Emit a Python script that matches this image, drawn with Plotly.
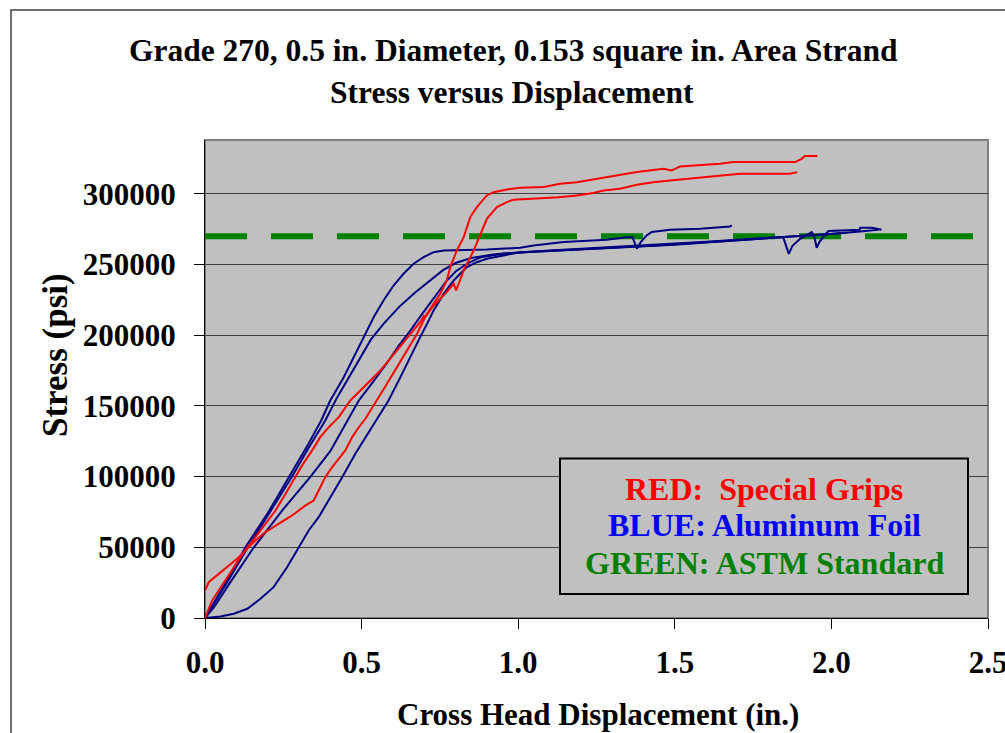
import plotly.graph_objects as go

# ---------------- data ----------------
# RED: Special Grips, specimen 1 (starts near 20000 psi)
red1_x = [0.0, 0.012, 0.044, 0.076, 0.108, 0.129, 0.161, 0.193, 0.235, 0.278, 0.321, 0.347,
          0.368, 0.384, 0.406, 0.427, 0.448, 0.470, 0.491, 0.512, 0.549, 0.581, 0.613, 0.645,
          0.677, 0.703, 0.730, 0.772, 0.794, 0.802, 0.826, 0.858, 0.879, 0.900, 0.932, 0.964,
          0.985, 1.038, 1.129, 1.187, 1.240, 1.272, 1.325, 1.379, 1.432, 1.485, 1.549, 1.623,
          1.708, 1.868, 1.891]
red1_y = [19500, 25300, 31200, 37100, 43000, 47700, 54800, 60700, 66600, 72500, 79600, 83100,
          92500, 99600, 106700, 112600, 118500, 127900, 134900, 140900, 153800, 165600, 177400, 189200,
          201000, 212800, 221000, 230400, 236300, 231600, 245800, 260000, 271700, 282300, 290500, 294100,
          295800, 296400, 297600, 298800, 300500, 302300, 303500, 306300, 308200, 309400, 310600, 312200,
          314100, 314100, 315300]

# RED: Special Grips, specimen 2 (starts at 0, upper plateau)
red2_x = [-0.012, 0.0, 0.023, 0.055, 0.087, 0.124, 0.161, 0.193, 0.225, 0.251, 0.289, 0.310,
          0.342, 0.368, 0.395, 0.427, 0.464, 0.517, 0.560, 0.613, 0.655, 0.687, 0.700, 0.695,
          0.709, 0.730, 0.751, 0.772, 0.783, 0.804, 0.826, 0.847, 0.868, 0.900, 0.921, 0.964,
          1.006, 1.081, 1.134, 1.187, 1.251, 1.325, 1.379, 1.464, 1.490, 1.517, 1.581, 1.644,
          1.687, 1.884, 1.905, 1.915, 1.955]
red2_y = [7600, 0, 12400, 23000, 33600, 46600, 57200, 66600, 76000, 85500, 99600, 107800,
          118500, 127900, 134900, 142000, 153800, 165600, 175000, 189200, 201000, 209200, 214000, 210500,
          215100, 222200, 229200, 238700, 248100, 259900, 269300, 283500, 290500, 298800, 301100, 303000,
          304200, 304700, 307000, 308200, 310600, 312900, 315300, 317600, 316500, 319300, 320000, 321200,
          322400, 322400, 324700, 326600, 326600]

# BLUE: Aluminum Foil, specimen 1 (steepest, ends at 1.68 in.)
blue1_x = [0.0, 0.02, 0.05, 0.10, 0.129, 0.20, 0.270, 0.33, 0.371, 0.400, 0.443, 0.475,
           0.507, 0.539, 0.570, 0.602, 0.634, 0.666, 0.698, 0.730, 0.762, 0.900, 1.006, 1.049,
           1.145, 1.283, 1.347, 1.365, 1.379, 1.392, 1.41, 1.426, 1.485, 1.581, 1.676, 1.682]
blue1_y = [0, 8000, 19000, 38000, 50000, 74000, 100000, 123000, 139700, 153800, 170300, 184500,
           198600, 212800, 224500, 235100, 243400, 250500, 255200, 258700, 259900, 260600, 261800, 263400,
           265800, 267400, 269300, 269300, 261100, 266000, 270500, 272900, 274500, 275200, 276900, 277600]

# BLUE: Aluminum Foil, specimen 2
blue2_x = [0.0, 0.03, 0.07, 0.137, 0.20, 0.278, 0.33, 0.384, 0.422, 0.464, 0.50, 0.53, 0.57,
           0.62, 0.67, 0.72, 0.76, 0.80, 0.85, 0.92, 1.0, 1.1, 1.2, 1.3, 1.4, 1.5, 1.6, 1.7,
           1.8, 1.9, 2.0, 2.1, 2.15]
blue2_y = [0, 10500, 25000, 50000, 72000, 100000, 120000, 139700, 156000, 172000, 186000, 197000, 208000,
           220000, 230000, 239000, 246000, 251000, 254500, 257000, 258500, 259800, 261000, 262000, 263200,
           264500, 266000, 267500, 268800, 269800, 271500, 273500, 274500]

# BLUE: Aluminum Foil, specimen 3 (with slip dips near 1.86 and 1.95 in.)
blue3_x = [0.0, 0.03, 0.08, 0.156, 0.25, 0.337, 0.40, 0.454, 0.491, 0.53, 0.58, 0.62, 0.655,
           0.69, 0.73, 0.77, 0.80, 0.84, 0.88, 0.95, 1.05, 1.15, 1.25, 1.35, 1.45, 1.55, 1.65,
           1.75, 1.846, 1.864, 1.875, 1.90, 1.937, 1.945, 1.953, 1.962, 1.975, 1.99, 2.09,
           2.092, 2.13, 2.16]
blue3_y = [0, 8000, 25000, 50000, 77000, 100000, 118000, 139700, 153800, 165000, 180000, 193000, 203000,
           214000, 226000, 238000, 245000, 251000, 255000, 257500, 259000, 260000, 261200, 262300, 263500,
           265000, 266500, 268000, 269300, 257500, 263000, 268100, 272900, 270000, 261800, 266000, 269500,
           273600, 274500, 275900, 275900, 274500]

# BLUE: Aluminum Foil, specimen 4 (seating toe at start)
blue4_x = [0.0, 0.049, 0.092, 0.135, 0.177, 0.219, 0.262, 0.294, 0.331, 0.363, 0.395, 0.438,
           0.480, 0.523, 0.565, 0.586, 0.624, 0.655, 0.687, 0.709, 0.730, 0.762, 0.794, 0.836,
           0.868, 0.900, 1.006, 1.1, 1.2, 1.3, 1.4, 1.5, 1.6, 1.7, 1.8, 1.9, 2.0, 2.05]
blue4_y = [0, 1000, 3000, 6500, 13600, 21800, 35900, 47700, 61900, 71300, 83100, 99600,
           116100, 131400, 146700, 153800, 170300, 184500, 198600, 208000, 217500, 229200, 238700, 248100,
           251600, 254000, 258700, 259500, 260500, 261500, 262800, 264000, 265500, 267000, 268500, 270000,
           271500, 272500]

# GREEN: ASTM Standard (270 ksi)
astm_x = [0.0, 2.5]
astm_y = [270000, 270000]

x_ticks = [0.0, 0.5, 1.0, 1.5, 2.0, 2.5]
y_ticks = [0, 50000, 100000, 150000, 200000, 250000, 300000]

title_lines = ["Grade 270, 0.5 in. Diameter, 0.153 square in. Area Strand",
               "Stress versus Displacement"]
x_title = "Cross Head Displacement (in.)"
y_title = "Stress (psi)"
legend_lines = ["RED:  Special Grips", "BLUE: Aluminum Foil", "GREEN: ASTM Standard"]
legend_colors = ["#FF0000", "#0000FF", "#008000"]

# ---------------- figure ----------------
FONT = "Liberation Serif, Times New Roman, serif"
W, H = 1005, 733
ML, MR, MT, MB = 205, 17, 140, 115
PW, PH = W - ML - MR, H - MT - MB


def px(xp):
    return (xp - ML) / PW


def py(yp):
    return (H - MB - yp) / PH


fig = go.Figure()

fig.add_trace(go.Scatter(x=astm_x, y=astm_y, mode="lines",
                         line=dict(color="#008000", width=6, dash="42px,24px"),
                         hoverinfo="skip", showlegend=False))

for bx, by in [(blue4_x, blue4_y), (blue3_x, blue3_y), (blue2_x, blue2_y), (blue1_x, blue1_y)]:
    fig.add_trace(go.Scatter(x=bx, y=by, mode="lines",
                             line=dict(color="#000080", width=2),
                             showlegend=False))

for rx, ry in [(red1_x, red1_y), (red2_x, red2_y)]:
    fig.add_trace(go.Scatter(x=rx, y=ry, mode="lines",
                             line=dict(color="#FF0000", width=2),
                             showlegend=False))

tickfont = dict(family=FONT, size=31, color="black", weight="bold")

fig.update_xaxes(range=[0, 2.5], tickvals=x_ticks,
                 ticktext=[f"{v:.1f}" for v in x_ticks],
                 showgrid=False, zeroline=False, automargin=False,
                 showline=True, linecolor="#000000", linewidth=1,
                 ticks="outside", ticklen=10, tickcolor="#000000", tickwidth=1,
                 tickfont=tickfont, ticklabelstandoff=7, ticklabeloverflow="allow")
fig.update_yaxes(range=[0, 338000], tickvals=y_ticks,
                 ticktext=[str(v) for v in y_ticks],
                 showgrid=True, gridcolor="#404040", gridwidth=1,
                 zeroline=False, automargin=False,
                 showline=True, linecolor="#000000", linewidth=1,
                 ticks="outside", ticklen=10, tickcolor="#000000", tickwidth=1,
                 tickfont=tickfont, ticklabelstandoff=12)

annotations = [
    dict(text=title_lines[0], x=px(513), y=py(50), size=31.5),
    dict(text=title_lines[1], x=px(511.5), y=py(93), size=31.5),
    dict(text=x_title, x=px(597.5), y=py(714), size=31),
    dict(text=y_title, x=px(55), y=py(355), textangle=-90, size=35),
]
for a in annotations:
    sz = a.pop("size")
    a.update(xref="paper", yref="paper", xanchor="center", yanchor="middle",
             showarrow=False,
             font=dict(family=FONT, size=sz, color="black", weight="bold"))

leg_y = [489, 525.3, 562.8]
for txt, col, yy in zip(legend_lines, legend_colors, leg_y):
    annotations.append(dict(text=txt, x=px(764), y=py(yy), xref="paper", yref="paper",
                            xanchor="center", yanchor="middle", showarrow=False,
                            font=dict(family=FONT, size=32, color=col, weight="bold")))

shapes = [
    # plot area outline
    dict(type="rect", xref="paper", yref="paper", x0=0, x1=1, y0=0, y1=1,
         line=dict(color="#808080", width=2), layer="below"),
    # legend box
    dict(type="rect", xref="paper", yref="paper",
         x0=px(560), x1=px(968), y0=py(594), y1=py(458.5),
         line=dict(color="#000000", width=2), fillcolor="#C0C0C0", layer="above"),
    # outer chart border
    dict(type="rect", xref="paper", yref="paper",
         x0=px(11), x1=px(1030), y0=py(760), y1=py(10),
         line=dict(color="#404040", width=1.5), layer="below"),
]

fig.update_layout(
    width=W, height=H, autosize=False,
    margin=dict(l=ML, r=MR, t=MT, b=MB, pad=0, autoexpand=False),
    paper_bgcolor="white", plot_bgcolor="#C0C0C0",
    showlegend=False,
    annotations=annotations,
    shapes=shapes,
    font=dict(family=FONT),
)

fig.write_html("out.html", config={"displayModeBar": False},
               post_script="document.body.style.margin='0px';document.body.style.overflow='hidden';")
